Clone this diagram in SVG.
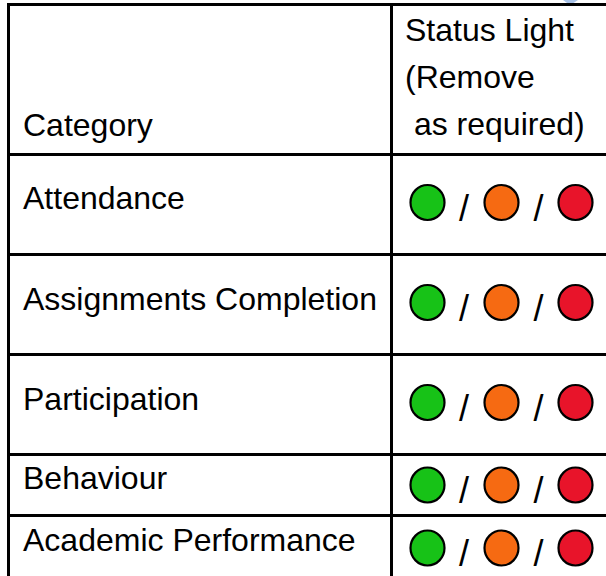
<svg xmlns="http://www.w3.org/2000/svg" width="606" height="576" viewBox="0 0 606 576">
<style>
.t{font-family:"Liberation Sans",Arial,sans-serif;font-size:32px;fill:#000}
.s{font-family:"Liberation Sans",Arial,sans-serif;font-size:36px;fill:#000}
.g{stroke:#000;stroke-width:3;fill:none}
.c{stroke:#000;stroke-width:2.2}
.gr{fill:#17c217}.or{fill:#f66a12}.rd{fill:#e8142a}
</style>
<rect width="606" height="576" fill="#fff"/>
<path d="M563 0 Q570 7 578 0 Z" fill="#a9c3e8"/>
<g id="grid" class="g">
<line x1="7" y1="4.5" x2="606" y2="4.5"/>
<line x1="8.5" y1="3" x2="8.5" y2="576"/>
<line x1="391.5" y1="3" x2="391.5" y2="576"/>
<line x1="7" y1="154.5" x2="606" y2="154.5"/>
<line x1="7" y1="254.5" x2="606" y2="254.5"/>
<line x1="7" y1="354.5" x2="606" y2="354.5"/>
<line x1="7" y1="454.5" x2="606" y2="454.5"/>
<line x1="7" y1="515.5" x2="606" y2="515.5"/>
</g>
<g id="header">
<text class="t" x="23" y="136">Category</text>
<text class="t" x="405" y="41">Status Light</text>
<text class="t" x="405" y="88">(Remove</text>
<text class="t" x="405" y="135" xml:space="preserve"> as required)</text>
</g>
<defs>
<g id="lights">
<ellipse class="c gr" cx="427.5" cy="0" rx="17" ry="17.5"/>
<text class="s" x="464" y="18" text-anchor="middle">/</text>
<ellipse class="c or" cx="501.5" cy="0" rx="17" ry="17.5"/>
<text class="s" x="538.5" y="18" text-anchor="middle">/</text>
<ellipse class="c rd" cx="575.5" cy="0" rx="17" ry="17.5"/>
</g>
</defs>
<g id="row-attendance">
<text class="t" x="23" y="209">Attendance</text>
<use href="#lights" y="202.5"/>
</g>
<g id="row-assignments">
<text class="t" x="23" y="310">Assignments Completion</text>
<use href="#lights" y="302.5"/>
</g>
<g id="row-participation">
<text class="t" x="23" y="410">Participation</text>
<use href="#lights" y="402.5"/>
</g>
<g id="row-behaviour">
<text class="t" x="23" y="489">Behaviour</text>
<use href="#lights" y="485"/>
</g>
<g id="row-academic">
<text class="t" x="23" y="551">Academic Performance</text>
<use href="#lights" y="548"/>
</g>
</svg>
